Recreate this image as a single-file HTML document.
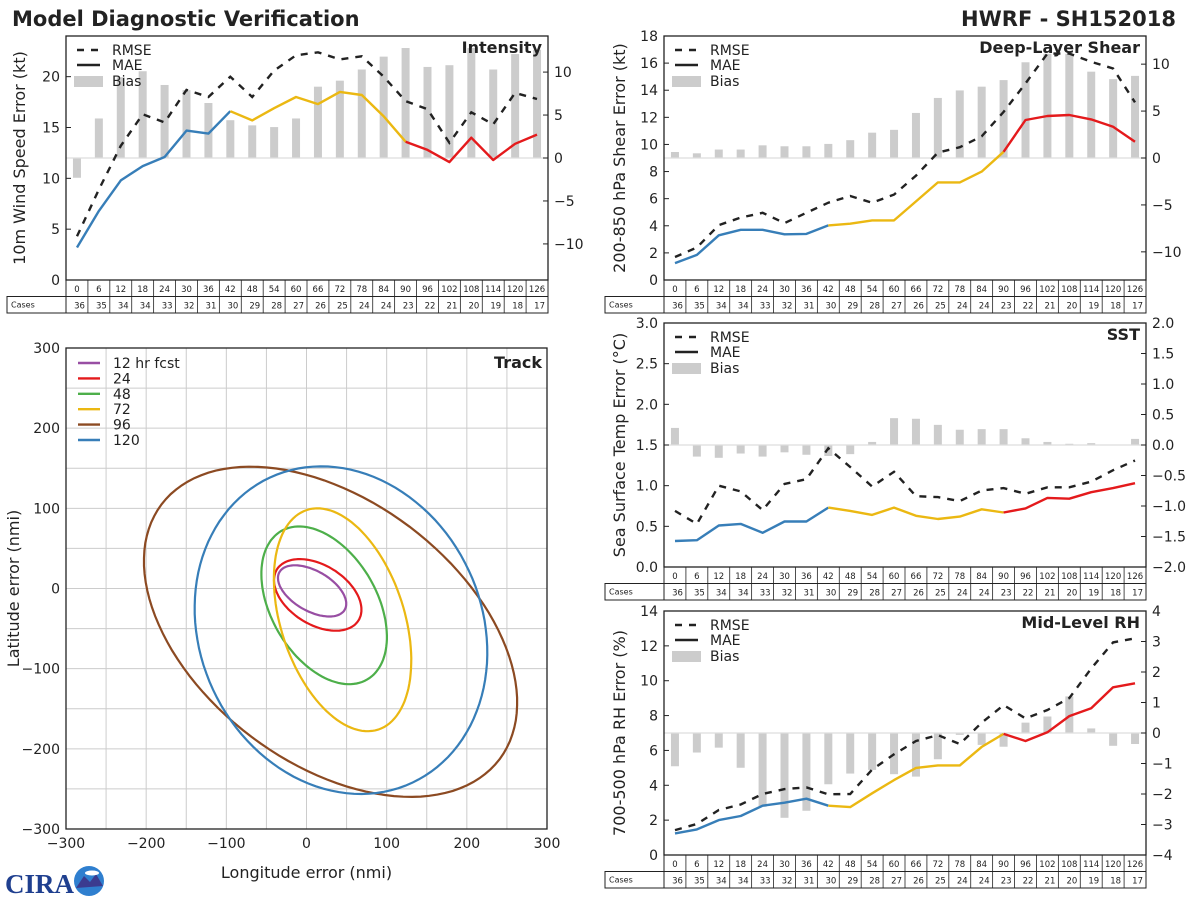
<!DOCTYPE html>
<html><head><meta charset="utf-8">
<style>
html,body{margin:0;padding:0;background:#fff;}
svg{display:block;font-family:"DejaVu Sans","Liberation Sans",sans-serif;}
</style></head>
<body>
<svg id="root" width="1200" height="900" viewBox="0 0 1200 900" xmlns="http://www.w3.org/2000/svg">
<rect width="1200" height="900" fill="#fff"/>
<text x="12" y="26" font-size="21" font-weight="bold" fill="#222">Model Diagnostic Verification</text>
<text x="1176" y="26" font-size="21" font-weight="bold" fill="#222" text-anchor="end">HWRF - SH152018</text>
<g>
<text x="5" y="893" font-size="27" font-weight="bold" fill="#1f3f8f" font-family="Liberation Serif,serif">CIRA</text>
<circle cx="89" cy="881" r="15" fill="#2f7fcf"/>
<path d="M76 888 L84 876 L90 882 L96 874 L103 886 Z" fill="#3b3b8f"/>
<ellipse cx="92" cy="873" rx="7" ry="2.5" fill="#fff"/>
</g>
</svg>
<script>
const leads=[0,6,12,18,24,30,36,42,48,54,60,66,72,78,84,90,96,102,108,114,120,126];
const cases=[36,35,34,34,33,32,31,30,29,28,27,26,25,24,24,23,22,21,20,19,18,17];

const intRmse=[4.3,8.9,13.2,16.3,15.5,18.7,18.0,20.0,18.0,20.6,22.1,22.4,21.7,22.0,20.0,17.6,16.8,13.5,16.5,15.3,18.4,17.8];
const intMae=[3.2,6.8,9.8,11.2,12.1,14.7,14.4,16.6,15.7,16.9,18.0,17.3,18.5,18.2,16.1,13.6,12.8,11.6,14.0,11.8,13.4,14.3];
const intBias=[-2.3,4.6,9.4,10.1,8.5,7.9,6.4,4.4,3.8,3.6,4.6,8.3,9.0,10.3,11.8,12.8,10.6,10.8,12.8,10.3,12.1,12.6];

const shrRmse=[1.7,2.4,4.05,4.6,4.96,4.2,4.96,5.7,6.2,5.7,6.3,7.7,9.4,9.8,10.6,12.4,14.5,16.7,16.7,16.1,15.6,13.1];
const shrMae=[1.25,1.85,3.3,3.7,3.7,3.37,3.4,4.03,4.15,4.4,4.4,5.8,7.2,7.2,8.0,9.46,11.8,12.1,12.17,11.85,11.3,10.2];
const shrBias=[0.64,0.5,0.9,0.9,1.35,1.25,1.25,1.5,1.9,2.7,3.0,4.8,6.4,7.2,7.6,8.3,10.2,11.1,11.1,9.2,8.4,8.75];

const sstRmse=[0.69,0.53,1.0,0.93,0.7,1.02,1.08,1.46,1.23,0.99,1.17,0.87,0.86,0.81,0.94,0.97,0.9,0.98,0.98,1.05,1.19,1.31];
const sstMae=[0.32,0.33,0.51,0.53,0.42,0.56,0.56,0.73,0.69,0.64,0.73,0.63,0.59,0.62,0.71,0.67,0.72,0.85,0.84,0.92,0.97,1.03];
const sstBias=[0.28,-0.19,-0.21,-0.14,-0.19,-0.12,-0.16,-0.18,-0.15,0.05,0.44,0.43,0.33,0.25,0.26,0.26,0.11,0.05,0.02,0.03,0.005,0.1];

const rhRmse=[1.43,1.78,2.58,2.9,3.5,3.78,3.88,3.48,3.5,4.9,5.78,6.54,6.88,6.37,7.59,8.6,7.84,8.32,9.0,10.7,12.2,12.43];
const rhMae=[1.24,1.47,2.0,2.24,2.83,3.0,3.23,2.83,2.75,3.54,4.3,5.0,5.14,5.14,6.2,6.95,6.54,7.04,7.97,8.42,9.62,9.85];
const rhBias=[-1.09,-0.64,-0.48,-1.14,-2.42,-2.78,-2.55,-1.68,-1.33,-1.21,-1.35,-1.43,-0.86,-0.06,-0.39,-0.45,0.34,0.54,1.2,0.15,-0.42,-0.36];

// track ellipses: center x,y (nmi), semi-axes a,b (nmi), angle (deg ccw)
const trkLabels=["12 hr fcst","24","48","72","96","120"];
const trkCx=[7,14,22,45,30,43];
const trkCy=[-3,-8,-21,-39,-54,-52];
const trkA=[47,60,107,144,264,210];
const trkB=[25,37,66,77,164,176];
const trkAng=[-30,-32,-60,-72,-37,-65];
const trkColors=["#984ea3","#e41a1c","#4daf4a","#ebb812","#8c4a22","#377eb8"];

const NS="http://www.w3.org/2000/svg";
const root=document.getElementById('root');
function mk(tag,attrs,parent){const e=document.createElementNS(NS,tag);for(const k in attrs)e.setAttribute(k,attrs[k]);(parent||root).appendChild(e);return e;}
function fmt(v,dec){let s=v.toFixed(dec);if(v<0)s="\u2212"+Math.abs(v).toFixed(dec);return s;}

const BLUE="#377eb8",YEL="#ebb812",RED="#e41a1c";

function panel(cfg){
  const g=mk('g',{});
  
  
  const L=cfg.L,R=cfg.R,T=cfg.T,B=cfg.B;
  const n=leads.length,cw=(R-L)/n;
  const x=i=>L+cw*(i+0.5);
  const y=v=>B-(v-cfg.ymin)/(cfg.ymax-cfg.ymin)*(B-T);
  const y2=v=>B-(v-cfg.rmin)/(cfg.rmax-cfg.rmin)*(B-T);
  const z=y2(0);
  cfg.bias.forEach((v,i)=>{
    const yy=y2(v);
    const r=mk('rect',{x:x(i)-4,y:Math.min(yy,z),width:8,height:Math.abs(yy-z),fill:'#cccccc'},g);
    
    
  });
  const zl=mk('line',{x1:L,x2:R,y1:z,y2:z,stroke:'#dddddd','stroke-width':1.2},g);
  
  
  let d='';cfg.rmse.forEach((v,i)=>{d+=(i?'L':'M')+x(i).toFixed(1)+' '+y(v).toFixed(1);});
  const rm=mk('path',{d:d,fill:'none',stroke:'#222','stroke-width':2.4,'stroke-dasharray':'7,7'},g);
  
  
  const segs=[[0,7,BLUE],[7,15,YEL],[15,21,RED]];
  segs.forEach(s=>{
    let dd='';for(let i=s[0];i<=s[1];i++)dd+=(i>s[0]?'L':'M')+x(i).toFixed(1)+' '+y(cfg.mae[i]).toFixed(1);
    const p=mk('path',{d:dd,fill:'none',stroke:s[2],'stroke-width':2.4,'stroke-linejoin':'round'},g);
    
    
  });
  const fr=mk('rect',{x:L,y:T,width:R-L,height:B-T,fill:'none',stroke:'#222','stroke-width':1.3},g);
  
  
  cfg.lt.forEach(v=>{
    const yy=y(v);
    mk('line',{x1:L,x2:L+5,y1:yy,y2:yy,stroke:'#222'},g);
    const t=mk('text',{x:L-6,y:yy+5,'font-size':14,'text-anchor':'end',fill:'#222'},g);
    t.textContent=fmt(v,cfg.ld);
    
    
  });
  cfg.rt.forEach(v=>{
    const yy=y2(v);
    mk('line',{x1:R,x2:R-5,y1:yy,y2:yy,stroke:'#222'},g);
    const t=mk('text',{x:R+6,y:yy+5,'font-size':14,fill:'#222'},g);
    t.textContent=fmt(v,cfg.rd);
    
    
  });
  const yl=mk('text',{x:0,y:0,'font-size':16,'text-anchor':'middle',fill:'#222',transform:`translate(${cfg.lx},${(T+B)/2}) rotate(-90)`},g);
  yl.textContent=cfg.ylabel;
  
  
  const tt=mk('text',{x:R-6,y:T+17,'font-size':16,'font-weight':'bold','text-anchor':'end',fill:'#222'},g);
  tt.textContent=cfg.title;
  
  
  const lg=mk('g',{},g);
  
  
  mk('line',{x1:L+11,x2:L+34,y1:T+14,y2:T+14,stroke:'#222','stroke-width':2.4,'stroke-dasharray':'7,7'},lg);
  mk('line',{x1:L+11,x2:L+34,y1:T+29,y2:T+29,stroke:'#222','stroke-width':2.4},lg);
  mk('rect',{x:L+8,y:T+40,width:29,height:11,fill:'#cccccc'},lg);
  [['RMSE',T+19],['MAE',T+34],['Bias',T+50]].forEach(a=>{
    const t=mk('text',{x:L+46,y:a[1],'font-size':14,fill:'#222'},lg);t.textContent=a[0];
    
    
  });
  const h=16.5;
  const tb=mk('g',{},g);
  
  
  mk('rect',{x:L,y:B,width:R-L,height:h,fill:'none',stroke:'#222'},tb);
  mk('rect',{x:cfg.cl,y:B+h,width:R-cfg.cl,height:h,fill:'none',stroke:'#222'},tb);
  mk('line',{x1:L,x2:L,y1:B,y2:B+2*h,stroke:'#222'},tb);
  const ct=mk('text',{x:cfg.cl+4,y:B+h+11,'font-size':8,fill:'#222'},tb);ct.textContent='Cases';
  leads.forEach((v,i)=>{
    const xx=L+cw*i;
    if(i>0)mk('line',{x1:xx,x2:xx,y1:B,y2:B+2*h,stroke:'#222','stroke-width':0.8},tb);
    const t=mk('text',{x:x(i),y:B+12,'font-size':8.5,'text-anchor':'middle',fill:'#222'},tb);t.textContent=v;
    const c=mk('text',{x:L+cw*(i+1)-3,y:B+h+12,'font-size':8.5,'text-anchor':'end',fill:'#222'},tb);c.textContent=cases[i];
  });
}

panel({name:'intensity',L:66,R:548,T:36,B:280,ymin:0,ymax:24,rmin:-14.2,rmax:14.2,lt:[0,5,10,15,20],ld:0,rt:[-10,-5,0,5,10],rd:0,
  rmse:intRmse,mae:intMae,bias:intBias,title:'Intensity',ylabel:'10m Wind Speed Error (kt)',lx:25,cl:7});
panel({name:'shear',L:664,R:1146,T:36,B:280,ymin:0,ymax:18,rmin:-13,rmax:13,lt:[0,2,4,6,8,10,12,14,16,18],ld:0,rt:[-10,-5,0,5,10],rd:0,
  rmse:shrRmse,mae:shrMae,bias:shrBias,title:'Deep-Layer Shear',ylabel:'200-850 hPa Shear Error (kt)',lx:625,cl:605});
panel({name:'sst',L:664,R:1146,T:323,B:567,ymin:0,ymax:3,rmin:-2,rmax:2,lt:[0,0.5,1,1.5,2,2.5,3],ld:1,rt:[-2,-1.5,-1,-0.5,0,0.5,1,1.5,2],rd:1,
  rmse:sstRmse,mae:sstMae,bias:sstBias,title:'SST',ylabel:'Sea Surface Temp Error (\u00B0C)',lx:625,cl:605});
panel({name:'rh',L:664,R:1146,T:611,B:855,ymin:0,ymax:14,rmin:-4,rmax:4,lt:[0,2,4,6,8,10,12,14],ld:0,rt:[-4,-3,-2,-1,0,1,2,3,4],rd:0,
  rmse:rhRmse,mae:rhMae,bias:rhBias,title:'Mid-Level RH',ylabel:'700-500 hPa RH Error (%)',lx:625,cl:605});

(function(){
  const L=66,R=547,T=348,B=829;
  const g=mk('g',{});
  
  
  const X=v=>L+(v+300)/600*(R-L);
  const Y=v=>B-(v+300)/600*(B-T);
  for(let v=-250;v<=250;v+=50){
    mk('line',{x1:X(v),x2:X(v),y1:T,y2:B,stroke:'#cccccc','stroke-width':1},g);
    mk('line',{x1:L,x2:R,y1:Y(v),y2:Y(v),stroke:'#cccccc','stroke-width':1},g);
  }
  trkLabels.forEach((lab,k)=>{
    let d='';
    const th=trkAng[k]*Math.PI/180;
    for(let j=0;j<=120;j++){
      const t=j/120*2*Math.PI;
      const ex=trkA[k]*Math.cos(t),ey=trkB[k]*Math.sin(t);
      const dx=trkCx[k]+ex*Math.cos(th)-ey*Math.sin(th);
      const dy=trkCy[k]+ex*Math.sin(th)+ey*Math.cos(th);
      d+=(j?'L':'M')+X(dx).toFixed(1)+' '+Y(dy).toFixed(1);
    }
    const p=mk('path',{d:d+'Z',fill:'none',stroke:trkColors[k],'stroke-width':2.2},g);
    
    
    const ly=363+k*15.4;
    mk('line',{x1:78,x2:100,y1:ly,y2:ly,stroke:trkColors[k],'stroke-width':2.4},g);
    const t=mk('text',{x:113,y:ly+5,'font-size':14,fill:'#222'},g);t.textContent=lab;
    
    
  });
  mk('rect',{x:L,y:T,width:R-L,height:B-T,fill:'none',stroke:'#222','stroke-width':1.3},g);
  for(let v=-300;v<=300;v+=100){
    const tx=mk('text',{x:X(v),y:B+19,'font-size':14,'text-anchor':'middle',fill:'#222'},g);tx.textContent=fmt(v,0);
    
    
    const ty=mk('text',{x:L-6,y:Y(v)+5,'font-size':14,'text-anchor':'end',fill:'#222'},g);ty.textContent=fmt(v,0);
    
    
  }
  const tt=mk('text',{x:R-5,y:T+20,'font-size':16,'font-weight':'bold','text-anchor':'end',fill:'#222'},g);tt.textContent='Track';
  
  
  const xl=mk('text',{x:(L+R)/2,y:878,'font-size':16,'text-anchor':'middle',fill:'#222'},g);xl.textContent='Longitude error (nmi)';
  
  
  const yl=mk('text',{x:0,y:0,'font-size':16,'text-anchor':'middle',fill:'#222',transform:`translate(19,${(T+B)/2}) rotate(-90)`},g);yl.textContent='Latitude error (nmi)';
  
  
})();
</script>
</body></html>
